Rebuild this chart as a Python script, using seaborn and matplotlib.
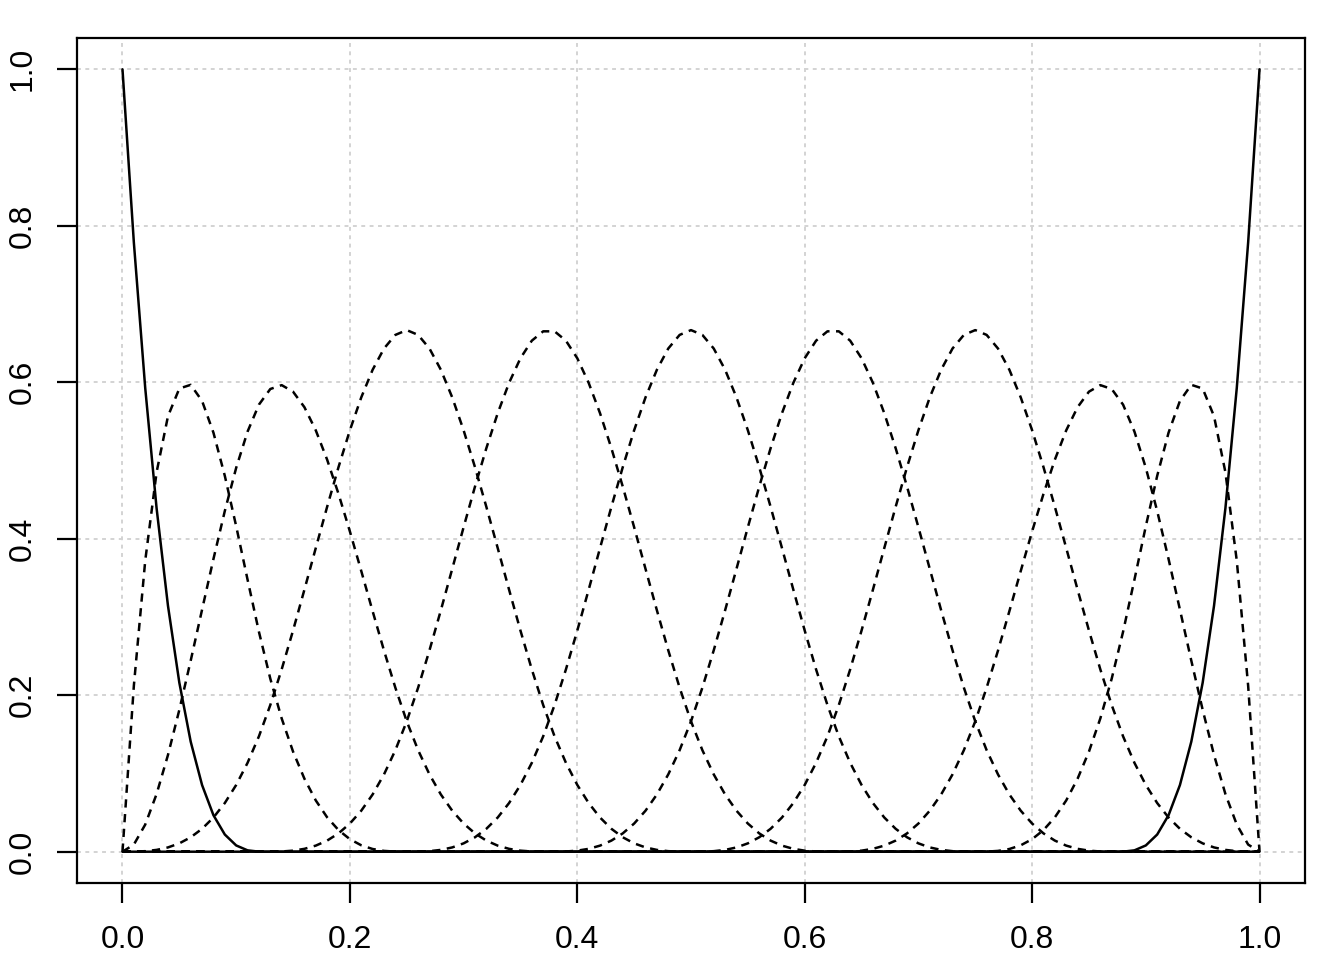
import numpy as np
import pandas as pd
import matplotlib
matplotlib.use("Agg")
import matplotlib.pyplot as plt
import seaborn as sns

# Data: cubic B-spline basis (knots), evaluated on 101 points
interior_knots = [0.125, 0.25, 0.375, 0.5, 0.625, 0.75, 0.875]
boundary_knots = [0.0, 1.0]
degree = 3
x_values = np.linspace(0.0, 1.0, 101)
x_ticks = [0.0, 0.2, 0.4, 0.6, 0.8, 1.0]
y_ticks = [0.0, 0.2, 0.4, 0.6, 0.8, 1.0]
tick_labels = ["0.0", "0.2", "0.4", "0.6", "0.8", "1.0"]


def bspline_basis(x, inner, bounds, k):
    t = np.r_[[bounds[0]] * (k + 1), inner, [bounds[1]] * (k + 1)]
    n = len(t) - k - 1
    B = np.zeros((len(x), len(t) - 1))
    for i in range(len(t) - 1):
        if t[i] < t[i + 1]:
            B[:, i] = (x >= t[i]) & (x < t[i + 1])
    last = max(i for i in range(len(t) - 1) if t[i] < t[i + 1])
    B[x == t[-1], last] = 1.0
    for d in range(1, k + 1):
        Bn = np.zeros((len(x), len(t) - 1 - d))
        for i in range(len(t) - 1 - d):
            a = 0.0
            if t[i + d] > t[i]:
                a = (x - t[i]) / (t[i + d] - t[i]) * B[:, i]
            b = 0.0
            if t[i + d + 1] > t[i + 1]:
                b = (t[i + d + 1] - x) / (t[i + d + 1] - t[i + 1]) * B[:, i + 1]
            Bn[:, i] = a + b
        B = Bn
    return B[:, :n]


basis = bspline_basis(x_values, interior_knots, boundary_knots, degree)
nb = basis.shape[1]
df = pd.DataFrame({
    "x": np.tile(x_values, nb),
    "y": basis.T.ravel(),
    "basis": np.repeat([f"B{i+1}" for i in range(nb)], len(x_values)),
})

sns.set_theme(style="white")
plt.rcParams["font.family"] = ["Liberation Sans", "DejaVu Sans"]

fig = plt.figure(figsize=(13.44, 9.6), dpi=100)
ax = fig.add_axes([77 / 1344, 1 - 883 / 960, (1305 - 77) / 1344, (883 - 38) / 960])

for v in x_ticks:
    ax.axvline(v, color="#d3d3d3", lw=1.4, ls=(0, (2, 2.3)), zorder=0)
for v in y_ticks:
    ax.axhline(v, color="#d3d3d3", lw=1.4, ls=(0, (2, 2.3)), zorder=0)

for i in range(nb):
    sub = df[df["basis"] == f"B{i+1}"]
    solid = i == 0 or i == nb - 1
    sns.lineplot(data=sub, x="x", y="y", ax=ax, color="black", lw=1.8,
                 estimator=None, sort=False, legend=False,
                 linestyle="-" if solid else (0, (3.3, 2.6)))

ax.set_xlim(-0.04, 1.04)
ax.set_ylim(-0.04, 1.04)
ax.set_xticks(x_ticks)
ax.set_xticklabels(tick_labels)
ax.set_yticks(y_ticks)
ax.set_yticklabels(tick_labels, rotation=90, va="center")
ax.set_xlabel("")
ax.set_ylabel("")
for s in ax.spines.values():
    s.set_color("black")
    s.set_linewidth(1.6)
ax.tick_params(axis="both", direction="out", length=14.4, width=1.6, color="black",
               labelsize=23, labelcolor="black",
               bottom=True, left=True)
ax.tick_params(axis="x", pad=16)
ax.tick_params(axis="y", pad=14)
ax.grid(False)
fig.savefig("out.png", dpi=100, facecolor="white")
